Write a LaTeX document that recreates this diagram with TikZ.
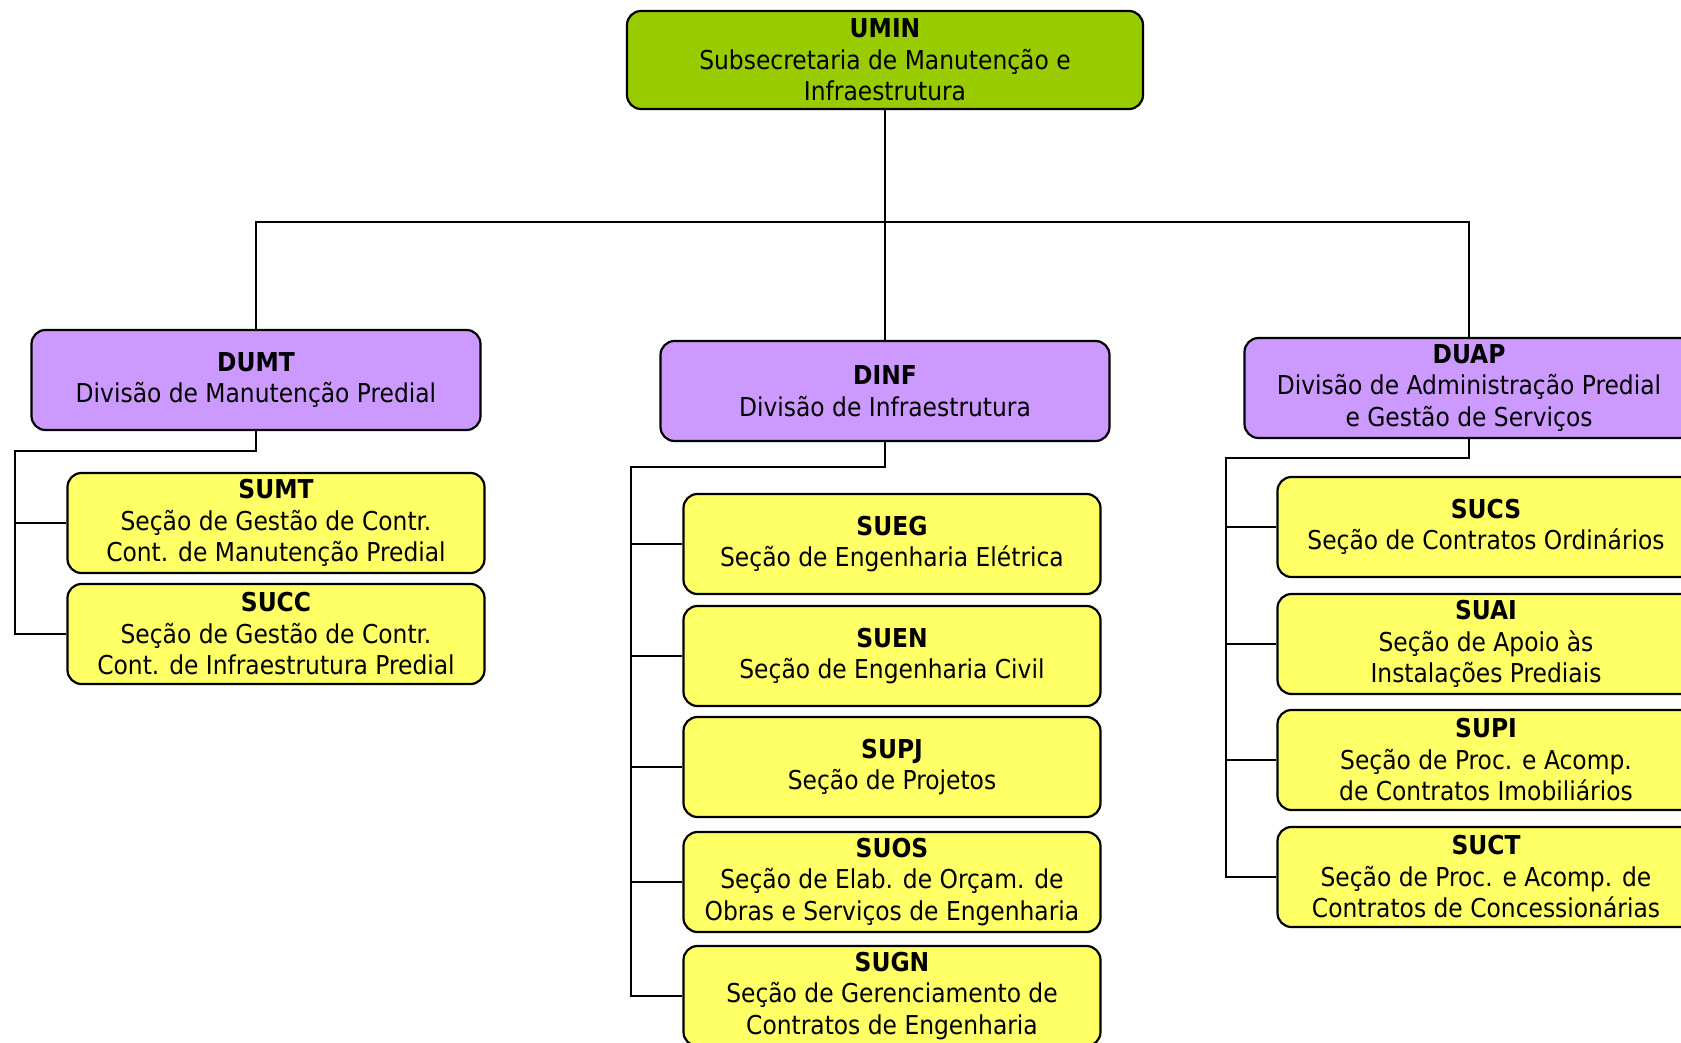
\documentclass[tikz,border=0pt]{standalone}
\usepackage{fontspec}
\setmainfont{DejaVu Sans Condensed}
\usepackage{tikz}
\usetikzlibrary{positioning}
\definecolor{umingreen}{HTML}{99CC00}
\definecolor{divpurple}{HTML}{CC99FF}
\definecolor{secyellow}{HTML}{FFFF66}
\tikzset{
  box/.style={draw=black, line width=2.2pt, rounded corners=14pt, align=center,
    inner sep=0pt, font=\fontsize{26}{31.5}\selectfont},
  topbox/.style={box, fill=umingreen, minimum width=516pt, minimum height=98pt},
  divbox/.style={box, fill=divpurple, minimum width=449pt, minimum height=100pt},
  secbox/.style={box, fill=secyellow, minimum width=417pt, minimum height=100pt},
  link/.style={line width=1.8pt}
}

\begin{document}
\begin{tikzpicture}[x=1pt, y=-1pt]
      \clip (0,0) rectangle (1681,1043);
      % top level
      \node[topbox] (umin) at (885,60) {\textbf{UMIN}\\Subsecretaria de Manutenção e\\Infraestrutura};
      % divisions
      \node[divbox] (dumt) at (256,380) {\textbf{DUMT}\\Divisão de Manutenção Predial};
      \node[divbox] (dinf) at (885,391) {\textbf{DINF}\\Divisão de Infraestrutura};
      \node[divbox] (duap) at (1469,388) {\textbf{DUAP}\\Divisão de Administração Predial\\e Gestão de Serviços};
      % sections of DUMT
      \node[secbox] (sumt) at (276,523) {\textbf{SUMT}\\Seção de Gestão de Contr.\\Cont. de Manutenção Predial};
      \node[secbox] (succ) at (276,634) {\textbf{SUCC}\\Seção de Gestão de Contr.\\Cont. de Infraestrutura Predial};
      % sections of DINF
      \node[secbox] (sueg) at (892,544) {\textbf{SUEG}\\Seção de Engenharia Elétrica};
      \node[secbox] (suen) at (892,656) {\textbf{SUEN}\\Seção de Engenharia Civil};
      \node[secbox] (supj) at (892,767) {\textbf{SUPJ}\\Seção de Projetos};
      \node[secbox] (suos) at (892,882) {\textbf{SUOS}\\Seção de Elab. de Orçam. de\\Obras e Serviços de Engenharia};
      \node[secbox] (sugn) at (892,996) {\textbf{SUGN}\\Seção de Gerenciamento de\\Contratos de Engenharia};
      % sections of DUAP
      \node[secbox] (sucs) at (1486,527) {\textbf{SUCS}\\Seção de Contratos Ordinários};
      \node[secbox] (suai) at (1486,644) {\textbf{SUAI}\\Seção de Apoio às\\Instalações Prediais};
      \node[secbox] (supi) at (1486,760) {\textbf{SUPI}\\Seção de Proc. e Acomp.\\de Contratos Imobiliários};
      \node[secbox] (suct) at (1486,877) {\textbf{SUCT}\\Seção de Proc. e Acomp. de\\Contratos de Concessionárias};
      % connectors
      \coordinate (bus) at (885,222);
      \coordinate (dumtL) at (15,451);
      \coordinate (dinfL) at (631,467);
      \coordinate (duapL) at (1226,458);
      \draw[link] (umin.south) -- (dinf.north);
      \draw[link] (dumt.north) |- (bus) -| (duap.north);
      \draw[link] (dumt.south) |- (dumtL) |- (succ.west);
      \draw[link] (dumtL |- sumt.west) -- (sumt.west);
      \draw[link] (dinf.south) |- (dinfL) |- (sugn.west);
      \foreach \s in {sueg,suen,supj,suos}
        \draw[link] (dinfL |- \s.west) -- (\s.west);
      \draw[link] (duap.south) |- (duapL) |- (suct.west);
      \foreach \s in {sucs,suai,supi}
        \draw[link] (duapL |- \s.west) -- (\s.west);
    \end{tikzpicture}
\end{document}
